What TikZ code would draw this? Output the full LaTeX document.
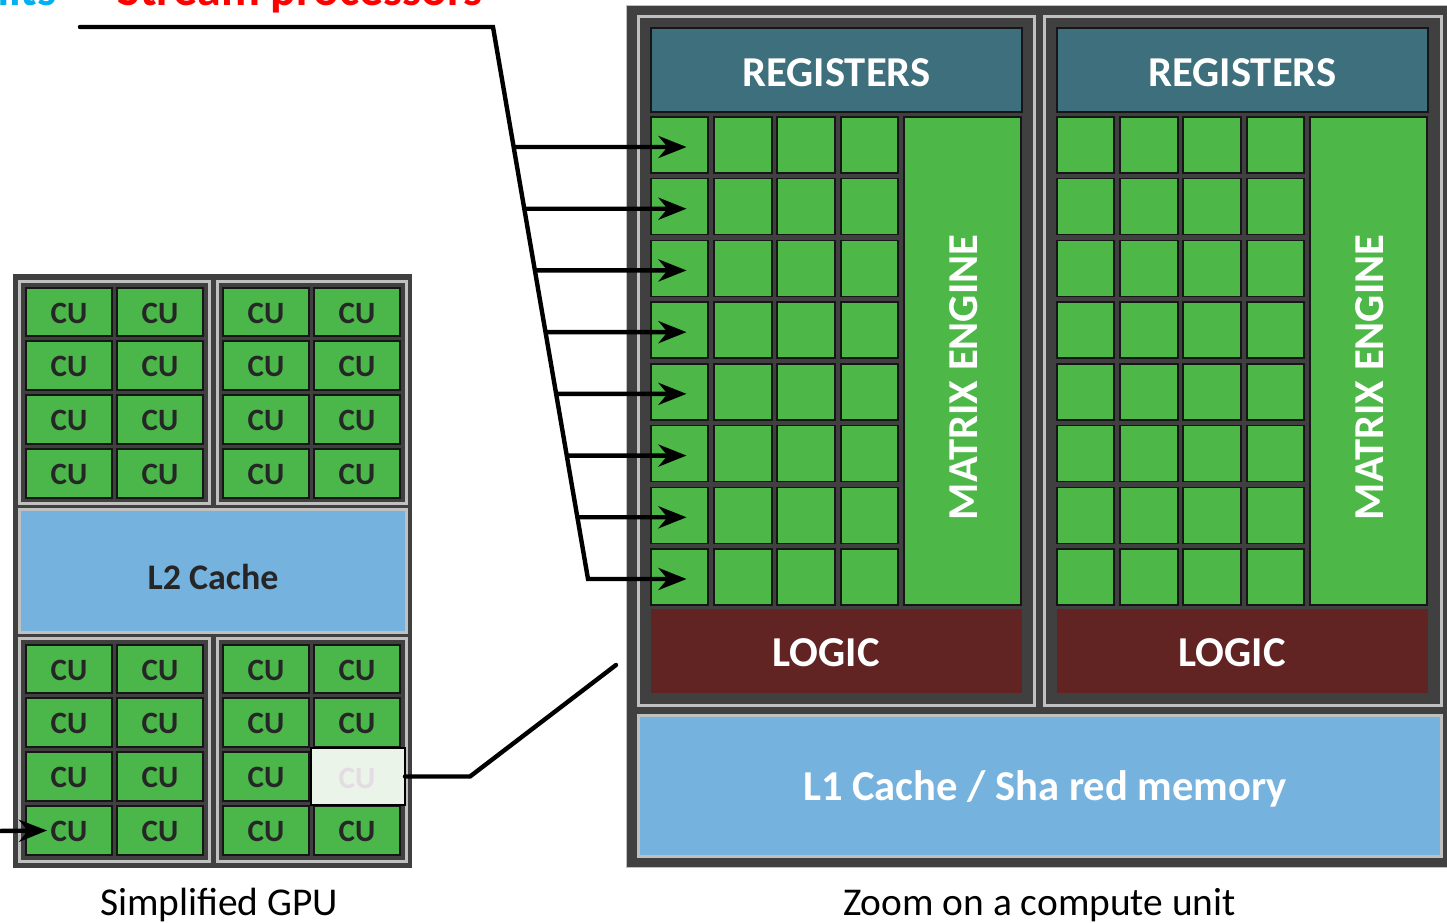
\documentclass[tikz,border=0pt]{standalone}
\usepackage{fontspec}
\setmainfont{Carlito}
\usetikzlibrary{arrows.meta,calc,fit}

\definecolor{frame}{HTML}{404040}
\definecolor{rim}{HTML}{C0C0C0}
\definecolor{cellgreen}{HTML}{4BB649}
\definecolor{spgreen}{HTML}{4DB748}
\definecolor{cellline}{HTML}{161616}
\definecolor{regteal}{HTML}{3D6F7C}
\definecolor{logicred}{HTML}{622423}
\definecolor{cacheblue}{HTML}{75B3DE}
\definecolor{cuink}{HTML}{262626}
\definecolor{hlfill}{HTML}{EAF4E9}
\definecolor{hlink}{HTML}{E3DDE3}
\definecolor{unitcyan}{HTML}{00B0F0}
\definecolor{spred}{HTML}{FF0000}

\newcommand\fsz[1]{\fontsize{#1}{#1}\selectfont}

\begin{document}
\begin{tikzpicture}[x=0.5pt,y=-0.5pt,
  box/.style={rectangle, inner sep=0pt, outer sep=0pt},
  darkblock/.style={box, fill=frame},
  panel/.style={box, fill=frame, draw=rim, line width=1.5pt},
  cache/.style={box, fill=cacheblue, draw=rim, line width=1.5pt},
  cu/.style={box, fill=cellgreen, draw=cellline, line width=0.75pt},
  cutext/.style={inner sep=0pt, text=cuink, font=\fsz{15.5}\bfseries},
  hlcu/.style={box, fill=hlfill, draw=black, line width=1pt},
  hltext/.style={cutext, text=hlink},
  sp/.style={box, fill=spgreen, draw=cellline, line width=0.75pt},
  regbox/.style={box, fill=regteal, draw=cellline, line width=0.75pt},
  logicbox/.style={box, fill=logicred},
  bigtext/.style={inner sep=0pt, text=white, font=\fsz{21.3}\bfseries},
  midtext/.style={inner sep=0pt, text=cuink, font=\fsz{18}\bfseries},
  caption/.style={inner sep=0pt, text=black, font=\fsz{19.7}},
  toptext/.style={inner sep=0pt, font=\fsz{24}\bfseries},
  wire/.style={draw=black, line width=2.2pt},
  arrow/.style={wire, -{Stealth[length=14pt,width=11pt,inset=4.5pt]}}
]
\useasboundingbox (0,0) rectangle (1447,922);
\clip (0,0) rectangle (1447,922);

% heading line, only its lower edge lies inside the page
\node[toptext, text=unitcyan, anchor=base east] (unitslabel) at (57,5) {nits};
\node[toptext, text=spred, anchor=base west] (splabel) at (117,5) {Stream processors};

% ---------------- simplified GPU ----------------
\node[darkblock, fit={(13,274) (412,868)}] (gpu) {};
\node[panel, fit={(19.5,281.5) (209.5,503)}] (q-tl) {};
\node[panel, fit={(217,281.5) (406,503)}] (q-tr) {};
\node[panel, fit={(19.5,638.5) (209.5,861)}] (q-bl) {};
\node[panel, fit={(217,638.5) (406,861)}] (q-br) {};
\node[cache, fit={(19.5,509.5) (406,632)}] (l2) {};
\node[midtext, anchor=base] (l2text) at (213,589) {L2 Cache};

\foreach \q/\xo/\yo in {tl/0/0, tr/197/0, bl/0/357, br/197/357}{
  \foreach \r/\ya/\yb in {1/288/336, 2/341/390, 3/395/444, 4/449/498}{
    \foreach \c/\xa/\xb in {1/26/112, 2/117/203}{
      \node[cu, fit={(\xa+\xo,\ya+\yo) (\xb+\xo,\yb+\yo)}] (\q-\r-\c) {};
      \node[cutext] (\q-\r-\c-t) at ($(\q-\r-\c.center)+(0,1)$) {CU};
    }
  }
}
% the compute unit that is shown enlarged
\node[hlcu, fit={(311,748) (405,805)}] (hl) {};
\node[hltext] (hl-t) at ($(hl.center)+(-1,2)$) {CU};

\node[caption, anchor=base] (gpucap) at (219,915) {Simplified GPU};

% ---------------- one compute unit ----------------
\node[darkblock, draw=rim, line width=0.5pt, fit={(626,5) (1460,867)}] (cuzoom) {};
\node[panel, fit={(638.5,16.5) (1034.5,705.5)}] (A-panel) {};
\node[panel, fit={(1044.5,16.5) (1441,705.5)}] (B-panel) {};
\node[cache, fit={(638.5,715.5) (1441,856.5)}] (l1) {};
\node[bigtext, anchor=base] (l1text) at (1045,800) {L1 Cache / Sha red memory};

\foreach \p/\o in {A/0, B/406}{
  \node[regbox, fit={(651+\o,28) (1022+\o,112)}] (\p-reg) {};
  \node[bigtext, anchor=base] (\p-regtext) at (836.5+\o,86) {REGISTERS};
  \foreach \r in {1,...,8}{
    \pgfmathsetmacro\ya{117+61.714*(\r-1)}
    \pgfmathsetmacro\yb{\ya+56}
    \foreach \c/\xa/\xb in {1/651/708, 2/714/772, 3/777/835, 4/841/898}{
      \node[sp, fit={(\xa+\o,\ya) (\xb+\o,\yb)}] (\p-\r-\c) {};
    }
  }
  \node[sp, fit={(904+\o,117) (1021+\o,605)}] (\p-mx) {};
  \node[bigtext, rotate=90, anchor=base] (\p-mxtext) at (977+\o,377.5) {MATRIX ENGINE};
  \node[logicbox, fit={(651+\o,609) (1022+\o,693)}] (\p-logic) {};
  \node[bigtext, anchor=base] (\p-logictext) at (826+\o,666) {LOGIC};
}

\node[caption, anchor=base] (cucap) at (1039.5,915) {Zoom on a compute unit};

% ---------------- connectors ----------------
% stream processor label fanning out to the first column
\coordinate (src) at (80,27);
\coordinate (bend) at (493,27);
\coordinate (foot) at (588,579);
\draw[arrow, line cap=round] (src) -- (bend) -- (foot) -- ($(A-8-1.center)+(7,2)$);
\foreach \r in {1,...,7}{
  \pgfmathsetmacro\t{(117+61.714*(\r-1)+30-27)/552}
  \draw[arrow] ($(bend)!\t!(foot)$) -- ($(A-\r-1.center)+(7,2)$);
}

% enlarged compute unit
\coordinate (zoomend) at (616,665);
\draw[wire, line cap=round] (hl.east) -- ++(65,0) coordinate (kink) -- (zoomend);

% entry arrow on the left
\coordinate (entry) at (-5,831);
\draw[arrow] (entry) -- ($(bl-4-1.west)+(21,0)$);
\end{tikzpicture}
\end{document}
